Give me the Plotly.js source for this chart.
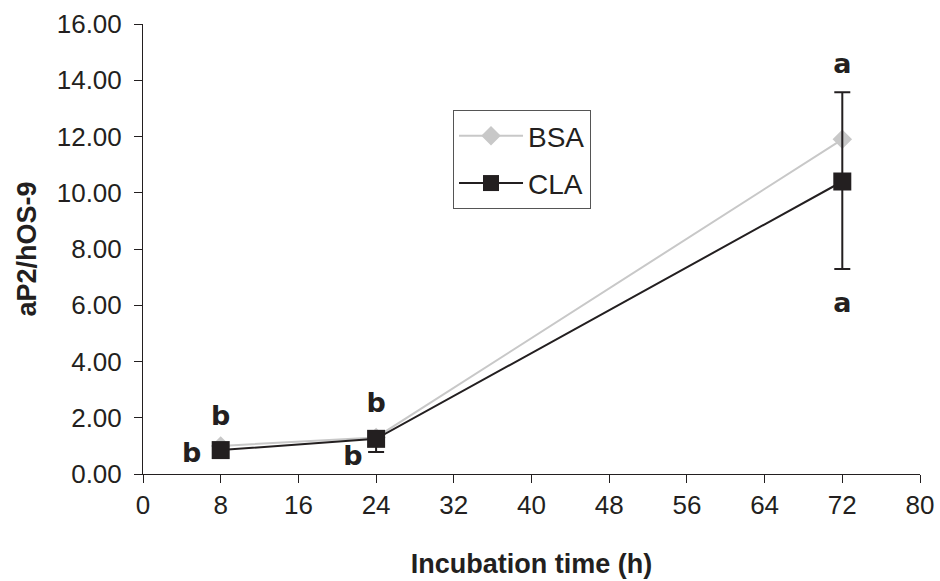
<!DOCTYPE html>
<html>
<head>
<meta charset="utf-8">
<script src="https://cdn.plot.ly/plotly-3.0.1.min.js"></script>
<style>html,body{margin:0;padding:0;background:#fff;}#chart{width:940px;height:581px;}</style>
</head>
<body>
<div id="chart"></div>
<script>
const hours = [8, 24, 72];
const bsaValues = [1.0, 1.3, 11.9];
const claValues = [0.85, 1.25, 10.4];
const claErrPlus = [0.1, 0.1, 3.17];
const claErrMinus = [0.1, 0.47, 3.11];
const xTicks = [0, 8, 16, 24, 32, 40, 48, 56, 64, 72, 80];
const yTicks = [0, 2, 4, 6, 8, 10, 12, 14, 16];
const yTickLabels = ["0.00", "2.00", "4.00", "6.00", "8.00", "10.00", "12.00", "14.00", "16.00"];
const letterText = ["b", "b", "b", "b", "a", "a"];
const letterX = [8, 5.0, 24, 21.6, 72, 72];
const letterY = [2.0, 0.65, 2.45, 0.55, 14.5, 6.0];

const FONT = "Liberation Sans, Arial, sans-serif";

const traces = [
  {
    x: hours, y: bsaValues, name: "BSA", type: "scatter", mode: "lines+markers",
    legendgroup: "g1",
    line: {color: "#c8c8c8", width: 2},
    marker: {symbol: "diamond", size: 15, color: "#c8c8c8"}
  },
  {
    x: hours, y: claValues, name: "CLA", type: "scatter", mode: "lines+markers",
    legendgroup: "g2",
    line: {color: "#231f20", width: 2},
    marker: {symbol: "square", size: 18, color: "#231f20"},
    error_y: {type: "data", symmetric: false, array: claErrPlus, arrayminus: claErrMinus,
              color: "#231f20", thickness: 2, width: 8}
  },
  {
    x: letterX, y: letterY, text: letterText, mode: "text", type: "scatter",
    showlegend: false, hoverinfo: "skip",
    textfont: {family: "DejaVu Sans", size: 27, color: "#231f20", weight: "bold"}
  }
];

const layout = {
  width: 940, height: 581,
  margin: {l: 143, r: 20, t: 24, b: 107},
  paper_bgcolor: "#fff", plot_bgcolor: "#fff",
  font: {family: FONT, color: "#231f20", size: 26},
  showlegend: true,
  legend: {
    x: 0.399, y: 0.809, xanchor: "left", yanchor: "top",
    bordercolor: "#555", borderwidth: 1, bgcolor: "#fff",
    font: {size: 28, family: FONT, color: "#231f20"},
    tracegroupgap: 8, itemwidth: 64
  },
  xaxis: {
    range: [0, 80], tickvals: xTicks, ticktext: xTicks.map(String), automargin: false,
    showgrid: false, zeroline: false, showline: true, linecolor: "#231f20", linewidth: 1,
    ticks: "outside", ticklen: 8, tickcolor: "#231f20", tickfont: {size: 26, family: FONT},
    title: {text: "<b>Incubation time (h)</b>", font: {size: 27, family: FONT}, standoff: 34}
  },
  yaxis: {
    range: [0, 16], tickvals: yTicks, ticktext: yTickLabels, automargin: false,
    showgrid: false, zeroline: false, showline: true, linecolor: "#231f20", linewidth: 1,
    ticks: "outside", ticklen: 8, tickcolor: "#231f20", tickfont: {size: 26, family: FONT},
    ticklabelstandoff: 7,
    title: {text: "<b>aP2/hOS-9</b>", font: {size: 27, family: FONT}, standoff: 12}
  }
};

Plotly.newPlot("chart", traces, layout, {displayModeBar: false, staticPlot: true});
</script>
</body>
</html>
